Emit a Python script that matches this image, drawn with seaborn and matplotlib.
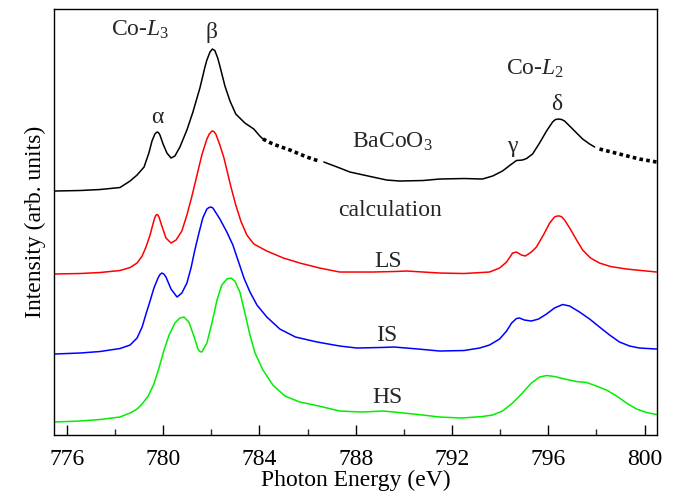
import numpy as np
import pandas as pd
import matplotlib
matplotlib.use('Agg')
import matplotlib.pyplot as plt
import seaborn as sns
from matplotlib.ticker import MultipleLocator

# BaCoO3 experiment (black), intensity in arb. units
black_E = [775.47, 776.55, 777.38, 778.21, 778.63, 778.92, 779.21, 779.41, 779.54, 779.66,
           779.72, 779.77, 779.82, 779.87, 780.00, 780.16, 780.33, 780.49, 780.70, 780.99,
           781.24, 781.53, 781.74, 781.82, 781.95, 782.05, 782.15, 782.27, 782.36, 782.57,
           782.78, 783.02, 783.40, 783.77, 784.02, 784.15, 784.56, 785.27, 785.97, 786.47,
           786.68, 787.34, 787.76, 788.71, 789.29, 789.83, 790.80, 791.49, 792.50, 793.27,
           793.69, 794.10, 794.48, 794.68, 794.93, 795.10, 795.35, 795.64, 795.93, 796.18,
           796.30, 796.43, 796.56, 796.68, 796.89, 797.18, 797.43, 797.72, 797.93, 798.13,
           798.96, 799.79, 800.50]
black_I = [244, 244.5, 245.5, 247.5, 254, 260, 268, 282, 294, 301,
           302.5, 303, 302, 300, 291, 282, 277, 279, 288, 305,
           323, 347, 368, 375, 383, 386, 384.5, 377, 369, 349,
           334, 321, 312, 306, 299, 296, 291, 285, 278, 274,
           273, 267, 263, 258, 255, 254, 254.5, 256, 256.5, 256,
           259, 264, 271, 274.5, 275, 276.5, 281, 292, 304, 313,
           315.5, 316, 315.5, 314, 309, 302, 296, 291, 288, 286,
           281, 276, 273]
dotted_ranges = [(784.15, 786.47), (798.13, 800.50)]

# calculations
ls_E = [775.47, 776.55, 777.38, 778.21, 778.63, 778.92, 779.13, 779.29, 779.46, 779.58,
        779.65, 779.71, 779.77, 779.83, 779.95, 780.12, 780.33, 780.54, 780.78, 780.99,
        781.20, 781.41, 781.61, 781.82, 781.92, 782.03, 782.11, 782.19, 782.36, 782.53,
        782.82, 783.02, 783.23, 783.48, 783.77, 784.31, 785.00, 785.68, 786.50, 787.34,
        788.71, 789.60, 790.12, 791.49, 792.50, 793.56, 793.98, 794.27, 794.52, 794.68,
        794.89, 795.05, 795.30, 795.51, 795.80, 796.06, 796.26, 796.37, 796.47, 796.57,
        796.68, 796.89, 797.18, 797.43, 797.76, 798.13, 798.59, 799.25, 800.50]
ls_I = [161, 161.5, 162.5, 164.5, 167.5, 172, 179, 188, 200, 211,
        217, 220, 220.5, 218, 209, 197, 192, 195, 204, 220,
        239, 260, 280, 296, 301, 304, 303.5, 301, 290, 277,
        248, 230, 214, 200, 191, 184, 177, 172, 167, 163,
        163, 163.5, 164, 162, 161.5, 163, 167, 173, 182, 183,
        180, 179, 183, 188, 200, 212, 218, 219, 219, 218,
        215, 207, 195, 185, 177, 172, 168.5, 166, 163]

is_E = [775.47, 776.55, 777.38, 778.21, 778.63, 778.92, 779.13, 779.29, 779.46, 779.62,
        779.79, 779.87, 779.95, 780.03, 780.12, 780.33, 780.58, 780.78, 780.99, 781.16,
        781.32, 781.49, 781.65, 781.82, 781.91, 781.99, 782.07, 782.15, 782.36, 782.65,
        782.90, 783.11, 783.36, 783.61, 783.90, 784.31, 784.85, 785.50, 786.40, 787.34,
        788.05, 789.00, 789.60, 790.60, 791.49, 792.50, 793.15, 793.56, 793.98, 794.27,
        794.48, 794.68, 794.81, 795.01, 795.30, 795.60, 795.93, 796.26, 796.60, 796.89,
        797.30, 797.72, 798.13, 798.55, 798.96, 799.38, 799.79, 800.50]
is_I = [81, 82, 83.5, 86.5, 90, 97, 108, 121, 134, 147,
        157, 160.5, 162, 161, 158, 146, 138, 142, 152, 167,
        185, 202, 217, 226, 227.5, 228, 227, 224, 216, 203,
        190, 175, 157, 143, 130, 118, 106, 98, 93, 89,
        87, 87.5, 88, 86, 84, 84.5, 87, 90, 96, 104,
        112, 116.5, 117, 115, 114, 116, 121, 127, 130.5, 129,
        123, 116, 108, 100, 93, 89, 87, 86]

hs_E = [775.47, 776.55, 777.38, 778.21, 778.63, 778.92, 779.13, 779.38, 779.62, 779.83,
        780.04, 780.25, 780.49, 780.70, 780.87, 781.07, 781.28, 781.45, 781.53, 781.61,
        781.82, 782.03, 782.24, 782.44, 782.65, 782.82, 782.98, 783.19, 783.40, 783.61,
        783.82, 784.15, 784.56, 785.06, 785.68, 786.47, 787.34, 788.26, 789.13, 789.80,
        790.60, 791.49, 792.40, 793.27, 793.69, 794.10, 794.52, 794.93, 795.30, 795.64,
        795.93, 796.26, 796.68, 797.18, 797.60, 798.00, 798.42, 798.84, 799.25, 799.67,
        800.08, 800.50]
hs_I = [13, 14, 15.5, 18, 22, 26, 31, 39, 51, 67,
        85, 100, 112, 117, 118, 113, 99, 86, 83.5, 83,
        92, 112, 135, 150, 156, 157, 154, 143, 122, 100,
        82, 65, 50, 39, 33, 29, 24, 23, 24, 22.5,
        20.5, 18, 17, 18.5, 20, 24, 32, 42, 52, 58,
        59.5, 58.5, 56, 53.5, 52.5, 49, 45, 39, 32, 26,
        22.5, 20.5]

sns.set_theme(style='ticks')
plt.rcParams['font.family'] = ['Liberation Serif', 'DejaVu Serif']
plt.rcParams['mathtext.fontset'] = 'custom'
plt.rcParams['mathtext.rm'] = 'Liberation Serif'
plt.rcParams['mathtext.it'] = 'Liberation Serif:italic'

fig = plt.figure(figsize=(6.77, 4.93), dpi=100)
ax = fig.add_axes([0.0798, 0.1176, 0.8907, 0.8641])

exp = pd.DataFrame({'E': black_E, 'I': black_I})

# solid pieces of the experiment, split around the dotted ranges
solid_parts = [exp[exp['E'] <= dotted_ranges[0][0]],
               exp[(exp['E'] > dotted_ranges[0][1]) & (exp['E'] < dotted_ranges[1][0])]]
for part in solid_parts:
    sns.lineplot(data=part, x='E', y='I', ax=ax, color='black', lw=1.1,
                 sort=False, estimator=None)
for lo, hi in dotted_ranges:
    part = exp[(exp['E'] >= lo) & (exp['E'] <= hi)]
    sns.lineplot(data=part, x='E', y='I', ax=ax, color='black', lw=2.6,
                 linestyle=(0, (1, 0.9)), dash_capstyle='butt',
                 sort=False, estimator=None)

for E, I, c in [(ls_E, ls_I, '#ff0000'), (is_E, is_I, '#0000ff'), (hs_E, hs_I, '#00ee00')]:
    sns.lineplot(x=E, y=I, ax=ax, color=c, lw=1.1, sort=False, estimator=None)

fs = 17
ax.text(779.04, 405, 'Co-$L_3$', fontsize=fs, ha='center', va='center')
ax.text(782.03, 403, 'β', fontsize=fs, ha='center', va='center')
ax.text(779.75, 318, 'α', fontsize=fs, ha='center', va='center')
ax.text(787.84, 293, 'BaCoO$_3$', fontsize=fs, ha='left', va='center')
ax.text(795.43, 366, 'Co-$L_2$', fontsize=fs, ha='center', va='center')
ax.text(796.34, 331, 'δ', fontsize=fs, ha='center', va='center')
ax.text(794.52, 289, 'γ', fontsize=fs, ha='center', va='center')
ax.text(789.42, 225, 'calculation', fontsize=fs, ha='center', va='center')
ax.text(789.34, 174, 'LS', fontsize=fs, ha='center', va='center')
ax.text(789.29, 100, 'IS', fontsize=fs, ha='center', va='center')
ax.text(789.34, 38, 'HS', fontsize=fs, ha='center', va='center')

ax.set_xlim(775.47, 800.52)
ax.set_ylim(0, 426)
ax.xaxis.set_major_locator(MultipleLocator(4))
ax.xaxis.set_minor_locator(MultipleLocator(2))
ax.set_yticks([])
ax.tick_params(axis='x', which='major', direction='in', length=7, width=1,
               labelsize=fs, color='black', labelcolor='black', pad=10)
ax.tick_params(axis='x', which='minor', direction='in', length=4, width=1)
for s in ax.spines.values():
    s.set_visible(True)
    s.set_color('black')
    s.set_linewidth(1.0)
ax.set_xlabel('Photon Energy (eV)', fontsize=fs, color='black', labelpad=0)
ax.set_ylabel('Intensity (arb. units)', fontsize=fs, color='black', labelpad=6)

plt.savefig('out.png', dpi=100)
plt.close()
